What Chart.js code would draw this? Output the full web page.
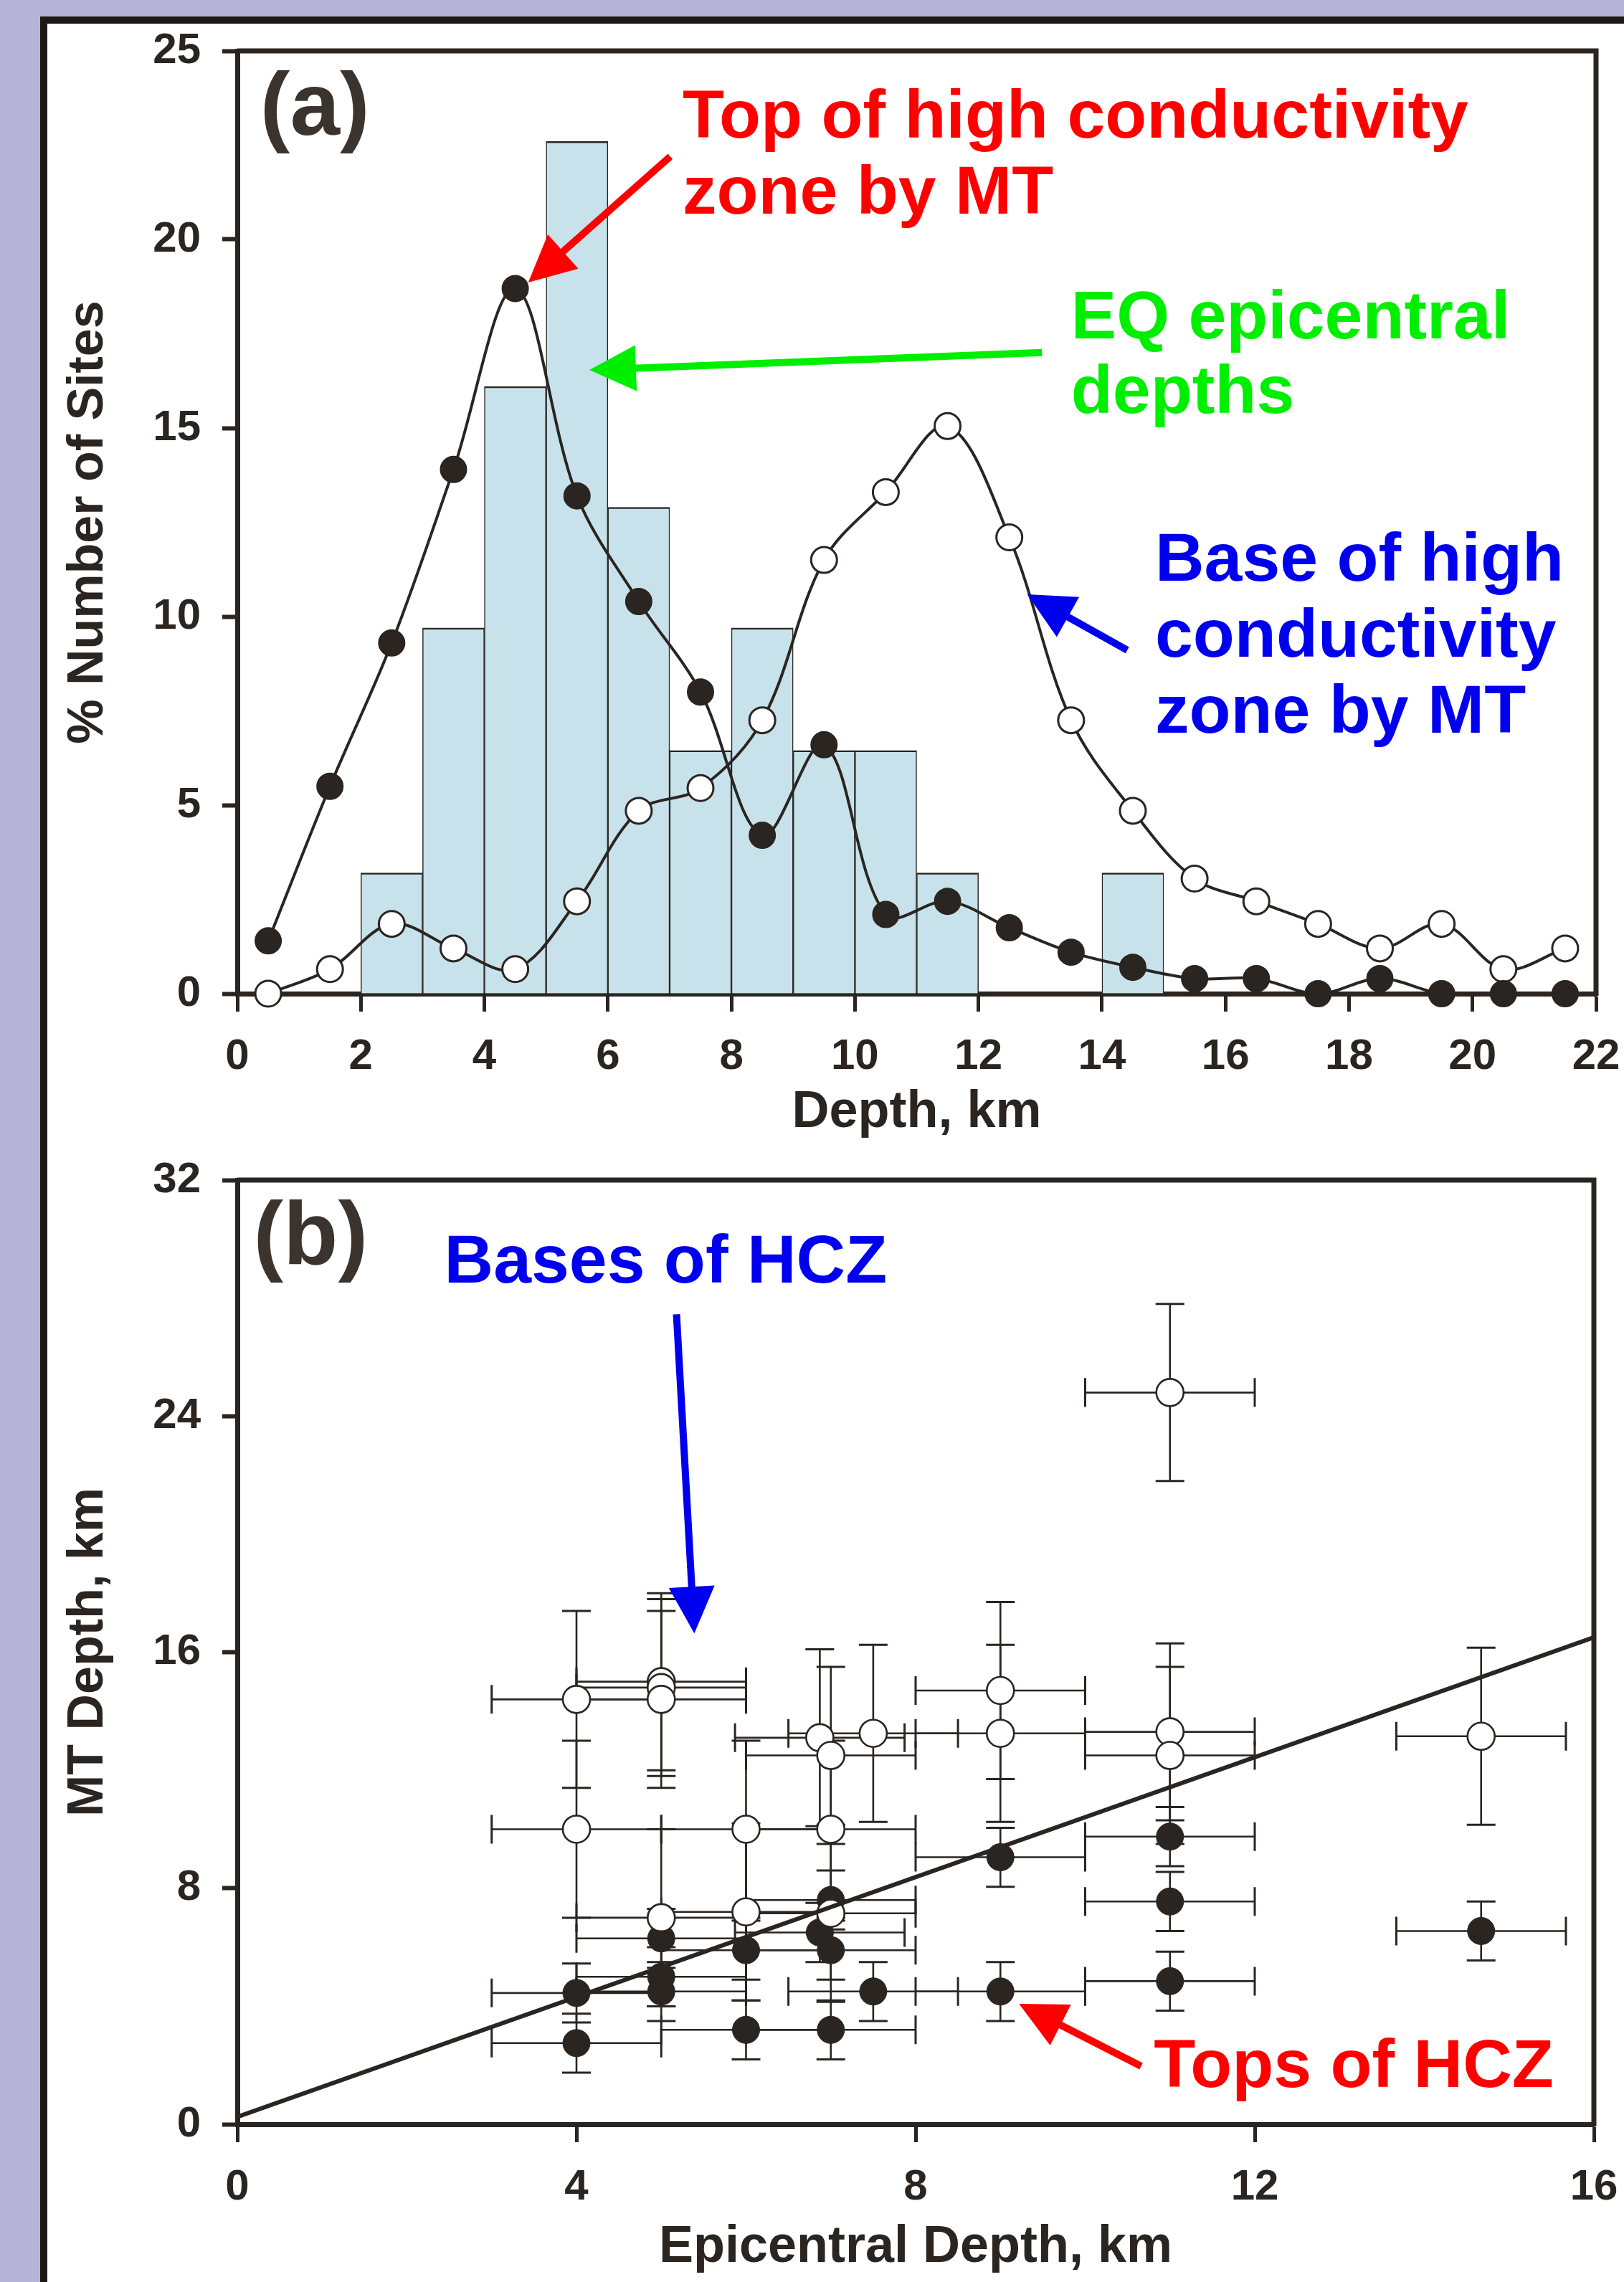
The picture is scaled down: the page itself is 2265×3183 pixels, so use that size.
<!DOCTYPE html>
<html>
<head>
<meta charset="utf-8">
<title>Depths of high conductivity zone vs EQ epicentral depths</title>
<script src="https://cdn.jsdelivr.net/npm/chart.js@4.4.1/dist/chart.umd.min.js"></script>
<style>
  html, body { margin: 0; padding: 0; }
  body { width: 2265px; height: 3183px; background: #b7b3d6; position: relative; overflow: hidden; }
  #paper { position: absolute; left: 56px; top: 23px; width: 2209px; height: 3160px; box-sizing: border-box;
           background: #fff; border-left: 10px solid #1c1816; border-top: 10px solid #1c1816; }
  canvas { position: absolute; left: 0; top: 0; width: 2265px; height: 3183px; }
</style>
</head>
<body>
<div id="paper"></div>
<canvas id="chartA" width="2265" height="3183"></canvas>
<canvas id="chartB" width="2265" height="3183"></canvas>
<script>
// (a) EQ epicentral depths, 1 km bins (% of sites)
const binCentres = [2.5, 3.5, 4.5, 5.5, 6.5, 7.5, 8.5, 9.5, 10.5, 11.5, 14.5];
const eqPercent = [3.2, 9.7, 16.1, 22.6, 12.9, 6.45, 9.7, 6.45, 6.45, 3.2, 3.2];

// (a) MT depths of top and base of the high conductivity zone
const mtDepth = [0.5, 1.5, 2.5, 3.5, 4.5, 5.5, 6.5, 7.5, 8.5, 9.5, 10.5, 11.5,
                 12.5, 13.5, 14.5, 15.5, 16.5, 17.5, 18.5, 19.5, 20.5, 21.5];
const topPercent = [1.4, 5.5, 9.3, 13.9, 18.7, 13.2, 10.4, 8.0, 4.2, 6.6, 2.1, 2.45,
                    1.75, 1.1, 0.7, 0.4, 0.4, 0, 0.4, 0, 0, 0];
const basePercent = [0, 0.65, 1.85, 1.2, 0.65, 2.45, 4.85, 5.45, 7.25, 11.5, 13.3, 15.05,
                     12.1, 7.25, 4.85, 3.05, 2.45, 1.85, 1.2, 1.85, 0.65, 1.2];

// (b) bases of HCZ: epicentral depth vs MT depth (km) with errors
const baseEpi = [4, 5, 5, 5, 4, 6, 7, 5, 6, 7, 6.87, 7, 7.5, 9, 9, 11, 11, 11, 14.67];
const baseMT = [14.4, 15.0, 14.8, 14.4, 10.0, 10.0, 10.0, 7.0, 7.2, 7.15, 13.1, 12.5, 13.25, 14.7, 13.25, 13.3, 12.5, 24.8, 13.15];
const baseEpiErr = [1, 1, 1, 1, 1, 1, 1, 1, 1, 1, 1, 1, 1, 1, 1, 1, 1, 1, 1];
const baseMTErr = [3, 3, 3, 3, 3, 3, 3, 3, 3, 3, 3, 3, 3, 3, 3, 3, 3, 3, 3];

// (b) tops of HCZ
const topEpi = [4, 4, 5, 5, 5, 6, 6, 6.87, 7, 7, 7, 7.5, 9, 9, 11, 11, 11, 14.67];
const topMT = [4.45, 2.75, 6.3, 5.0, 4.5, 5.9, 3.2, 6.5, 7.6, 5.9, 3.2, 4.5, 9.05, 4.5, 9.75, 7.55, 4.85, 6.55];
const topEpiErr = [1, 1, 1, 1, 1, 1, 1, 1, 1, 1, 1, 1, 1, 1, 1, 1, 1, 1];
const topMTErr = [1, 1, 1, 1, 1, 1, 1, 1, 1, 1, 1, 1, 1, 1, 1, 1, 1, 1];

// (b) fitted line
const fitEpi = [0, 16];
const fitMT = [0.25, 16.5];

const ink = '#2a2520';
const red = '#ff0000';
const green = '#00ee00';
const blue = '#0000ee';
const fontFamily = '"Liberation Sans", Arial, sans-serif';

Chart.defaults.font.family = fontFamily;
Chart.defaults.font.weight = 'bold';
Chart.defaults.color = ink;

function pairs(xs, ys) {
    return xs.map((v, i) => ({ x: v, y: ys[i] }));
}

function drawArrow(ctx, x1, y1, x2, y2, color) {
    const ang = Math.atan2(y2 - y1, x2 - x1);
    const head = 65, half = 32;
    const bx = x2 - head * Math.cos(ang);
    const by = y2 - head * Math.sin(ang);
    ctx.save();
    ctx.strokeStyle = color;
    ctx.fillStyle = color;
    ctx.lineWidth = 10;
    ctx.beginPath();
    ctx.moveTo(x1, y1);
    ctx.lineTo(bx + 4 * Math.cos(ang), by + 4 * Math.sin(ang));
    ctx.stroke();
    ctx.beginPath();
    ctx.moveTo(x2, y2);
    ctx.lineTo(bx + half * Math.sin(ang), by - half * Math.cos(ang));
    ctx.lineTo(bx - half * Math.sin(ang), by + half * Math.cos(ang));
    ctx.closePath();
    ctx.fill();
    ctx.restore();
}

// text notes and arrows, placed in data units of each panel
function notesPlugin(id, notes, arrows) {
    return {
        id: id,
        afterDraw(chart) {
            const { ctx, scales: { x, y } } = chart;
            ctx.save();
            ctx.textAlign = 'left';
            ctx.textBaseline = 'alphabetic';
            notes.forEach(n => {
                ctx.font = 'bold ' + n.size + 'px ' + fontFamily;
                ctx.fillStyle = n.color;
                const px = x.getPixelForValue(n.x);
                const py = y.getPixelForValue(n.y);
                n.text.forEach((line, i) => ctx.fillText(line, px, py + i * n.gap));
            });
            ctx.restore();
            arrows.forEach(a => {
                drawArrow(ctx, x.getPixelForValue(a.from[0]), y.getPixelForValue(a.from[1]),
                    x.getPixelForValue(a.to[0]), y.getPixelForValue(a.to[1]), a.color);
            });
        }
    };
}

const frame = {
    id: 'frame',
    afterDatasetsDraw(chart) {
        const { ctx, chartArea: a } = chart;
        ctx.save();
        ctx.strokeStyle = ink;
        ctx.lineWidth = 7;
        ctx.beginPath();
        ctx.moveTo(a.left, a.top);
        ctx.lineTo(a.right, a.top);
        ctx.lineTo(a.right, a.bottom + 3);
        ctx.stroke();
        ctx.restore();
    }
};

const errorBars = {
    id: 'errorBars',
    beforeDatasetsDraw(chart) {
        const { ctx, scales: { x, y } } = chart;
        const cap = 20;
        const groups = [
            [topEpi, topMT, topEpiErr, topMTErr],
            [baseEpi, baseMT, baseEpiErr, baseMTErr]
        ];
        ctx.save();
        ctx.strokeStyle = ink;
        groups.forEach(([xs, ys, xe, ye]) => {
            xs.forEach((v, i) => {
                const px = x.getPixelForValue(v);
                const py = y.getPixelForValue(ys[i]);
                const x0 = x.getPixelForValue(v - xe[i]);
                const x1 = x.getPixelForValue(v + xe[i]);
                const y0 = y.getPixelForValue(ys[i] - ye[i]);
                const y1 = y.getPixelForValue(ys[i] + ye[i]);
                ctx.lineWidth = 2.6;
                ctx.beginPath();
                ctx.moveTo(x0, py); ctx.lineTo(x1, py);
                ctx.moveTo(px, y0); ctx.lineTo(px, y1);
                ctx.stroke();
                ctx.lineWidth = 3;
                ctx.beginPath();
                ctx.moveTo(x0, py - cap); ctx.lineTo(x0, py + cap);
                ctx.moveTo(x1, py - cap); ctx.lineTo(x1, py + cap);
                ctx.moveTo(px - cap, y0); ctx.lineTo(px + cap, y0);
                ctx.moveTo(px - cap, y1); ctx.lineTo(px + cap, y1);
                ctx.stroke();
            });
        });
        ctx.restore();
    }
};

function axisX(min, max, step, label, titleBottom) {
    return {
        type: 'linear', min: min, max: max, offset: false,
        ticks: { stepSize: step, padding: 27, autoSkip: false, maxRotation: 0, color: ink, font: { size: 60 } },
        grid: { display: true, drawOnChartArea: false, drawTicks: true, tickLength: 25, tickWidth: 5, tickColor: ink, offset: false },
        border: { display: true, color: ink, width: 7 },
        title: { display: true, text: label, color: ink, font: { size: 72 }, padding: { top: 0, bottom: titleBottom } },
        afterFit(scale) {
            scale.height = 220;
            // the outer tick labels may hang past the frame, as in the original
            scale.paddingLeft = 0;
            scale.paddingRight = 0;
        }
    };
}

function axisY(min, max, step, label) {
    return {
        type: 'linear', min: min, max: max,
        ticks: { stepSize: step, padding: 30, color: ink, font: { size: 60 } },
        grid: { display: true, drawOnChartArea: false, drawTicks: true, tickLength: 21, tickWidth: 6, tickColor: ink },
        border: { display: true, color: ink, width: 7 },
        title: { display: true, text: label, color: ink, font: { size: 70 }, padding: { top: 1, bottom: 0 } },
        afterFit(scale) {
            scale.width = 250;
            scale.paddingTop = 0;
            scale.paddingBottom = 0;
        }
    };
}

const notesA = [
    { text: ['(a)'], x: 0.37, y: 22.78, size: 125, color: '#3b342e', gap: 0 },
    { text: ['Top of high conductivity', 'zone by MT'], x: 7.21, y: 22.7, size: 95, color: red, gap: 106 },
    { text: ['EQ epicentral', 'depths'], x: 13.5, y: 17.38, size: 95, color: green, gap: 104 },
    { text: ['Base of high', 'conductivity', 'zone by MT'], x: 14.86, y: 10.95, size: 95, color: blue, gap: 106 }
];
const arrowsA = [
    { from: [7.01, 22.2], to: [4.71, 18.86], color: red },
    { from: [13.03, 17.0], to: [5.70, 16.54], color: green },
    { from: [14.41, 9.11], to: [12.79, 10.59], color: blue }
];

const notesB = [
    { text: ['(b)'], x: 0.19, y: 29.15, size: 125, color: '#3b342e', gap: 0 },
    { text: ['Bases of HCZ'], x: 2.44, y: 28.52, size: 95, color: blue, gap: 0 },
    { text: ['Tops of HCZ'], x: 10.81, y: 1.26, size: 95, color: red, gap: 0 }
];
const arrowsB = [
    { from: [5.18, 27.45], to: [5.39, 16.64], color: blue },
    { from: [10.66, 1.97], to: [9.22, 4.08], color: red }
];

const chartA = new Chart(document.getElementById('chartA'), {
    type: 'bar',
    data: {
        datasets: [{
            type: 'bar',
            label: 'EQ epicentral depths',
            data: pairs(binCentres, eqPercent),
            backgroundColor: '#c8e2ec',
            borderColor: ink,
            borderWidth: { top: 2.5, left: 1.5, right: 1.5, bottom: 0 },
            barPercentage: 1,
            categoryPercentage: 1,
            order: 3
        }, {
            type: 'line',
            label: 'Base of high conductivity zone by MT',
            data: pairs(mtDepth, basePercent),
            borderColor: ink,
            borderWidth: 4,
            tension: 0.35,
            pointRadius: 18,
            pointBackgroundColor: '#ffffff',
            pointBorderColor: ink,
            pointBorderWidth: 3,
            clip: false,
            order: 2
        }, {
            type: 'line',
            label: 'Top of high conductivity zone by MT',
            data: pairs(mtDepth, topPercent),
            borderColor: ink,
            borderWidth: 4,
            tension: 0.35,
            pointRadius: 18,
            pointBackgroundColor: ink,
            pointBorderColor: ink,
            pointBorderWidth: 2,
            clip: false,
            order: 1
        }]
    },
    options: {
        responsive: false,
        animation: false,
        events: [],
        devicePixelRatio: 1,
        layout: { padding: { left: 81, top: 71, right: 39, bottom: 1577 } },
        plugins: { legend: { display: false }, tooltip: { enabled: false } },
        scales: {
            x: axisX(0, 22, 2, 'Depth, km', 11),
            y: axisY(0, 25, 5, '% Number of Sites')
        }
    },
    plugins: [frame, notesPlugin('notesA', notesA, arrowsA)]
});

const chartB = new Chart(document.getElementById('chartB'), {
    type: 'scatter',
    data: {
        datasets: [{
            type: 'line',
            label: 'fit',
            data: pairs(fitEpi, fitMT),
            borderColor: ink,
            borderWidth: 6,
            pointRadius: 0,
            order: 0
        }, {
            label: 'Bases of HCZ',
            data: pairs(baseEpi, baseMT),
            pointRadius: 19,
            backgroundColor: '#ffffff',
            borderColor: ink,
            borderWidth: 2.6,
            clip: false,
            order: 1
        }, {
            label: 'Tops of HCZ',
            data: pairs(topEpi, topMT),
            pointRadius: 19,
            backgroundColor: ink,
            borderColor: ink,
            borderWidth: 1,
            clip: false,
            order: 2
        }]
    },
    options: {
        responsive: false,
        animation: false,
        events: [],
        devicePixelRatio: 1,
        layout: { padding: { left: 81, top: 1646, right: 42, bottom: 0 } },
        plugins: { legend: { display: false }, tooltip: { enabled: false } },
        scales: {
            x: axisX(0, 16, 4, 'Epicentral Depth, km', 5),
            y: axisY(0, 32, 8, 'MT Depth, km')
        }
    },
    plugins: [errorBars, frame, notesPlugin('notesB', notesB, arrowsB)]
});
</script>
</body>
</html>
